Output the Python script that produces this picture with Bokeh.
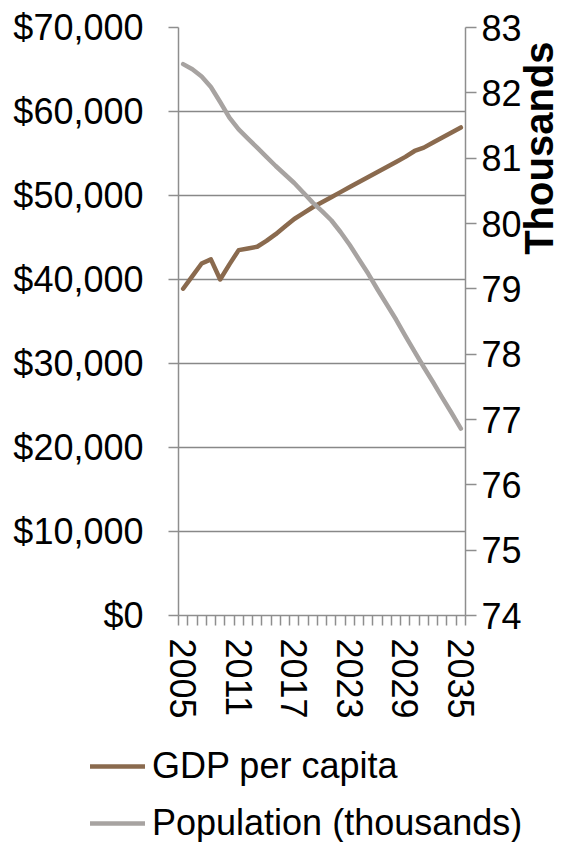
from math import pi
from bokeh.plotting import figure
from bokeh.models import (Range1d, LinearAxis, FixedTicker, NumeralTickFormatter,
                          Legend, LegendItem, ColumnDataSource)
from bokeh.embed import file_html
from bokeh.resources import INLINE

# ---- data ----
years = list(range(2005, 2036))
gdp_per_capita = [38900, 40400, 41900, 42400, 40000, 41800, 43500, 43700, 43900, 44600,
                  45400, 46300, 47200, 47900, 48600, 49200, 49800, 50400, 51000, 51600,
                  52200, 52800, 53400, 54000, 54600, 55300, 55700, 56300, 56900, 57500,
                  58100]
population_thousands = [82.44, 82.36, 82.25, 82.09, 81.86, 81.62, 81.44, 81.30, 81.16, 81.02,
                        80.88, 80.75, 80.62, 80.47, 80.32, 80.19, 80.05, 79.87, 79.67, 79.45,
                        79.23, 78.99, 78.76, 78.53, 78.28, 78.04, 77.80, 77.57, 77.33, 77.10,
                        76.86]
year_labels = [2005, 2011, 2017, 2023, 2029, 2035]
gdp_ticks = [0, 10000, 20000, 30000, 40000, 50000, 60000, 70000]
pop_ticks = [74, 75, 76, 77, 78, 79, 80, 81, 82, 83]
series_names = ["GDP per capita", "Population (thousands)"]
right_title = "Thousands"

FONT = "Liberation Sans"
GDP_COLOR = "#8A6A4E"
POP_COLOR = "#A7A3A1"
AXIS_COLOR = "#8E8E8E"
GRID_COLOR = "#888888"
W = 585
H_MAIN = 735
H_LEG = 107

src = ColumnDataSource(dict(year=years, gdp=gdp_per_capita, pop=population_thousands))

p = figure(width=W, height=H_MAIN, output_backend="svg", toolbar_location=None,
           x_range=Range1d(years[0] - 0.5, years[-1] + 0.5),
           y_range=Range1d(gdp_ticks[0], gdp_ticks[-1]),
           min_border_left=178, min_border_right=120, min_border_top=27,
           min_border_bottom=H_MAIN - 615)
p.extra_y_ranges = {"pop": Range1d(pop_ticks[0], pop_ticks[-1])}
p.outline_line_color = None
p.background_fill_color = "white"
p.border_fill_color = "white"

# x axis
xa = p.xaxis[0]
xa.ticker = FixedTicker(ticks=year_labels,
                        minor_ticks=[y - 0.5 for y in years] + [years[-1] + 0.5])
xa.major_tick_out = 0
xa.major_tick_in = 0
xa.minor_tick_out = 10
xa.minor_tick_in = 0
xa.minor_tick_line_color = AXIS_COLOR
xa.minor_tick_line_width = 1.5
xa.axis_line_color = AXIS_COLOR
xa.axis_line_width = 1.5
xa.major_label_orientation = "vertical"
xa.major_label_text_font = FONT
xa.major_label_text_font_size = "36px"
xa.major_label_text_color = "black"
xa.major_label_standoff = 13

# left axis
ya = p.yaxis[0]
ya.ticker = FixedTicker(ticks=gdp_ticks)
ya.formatter = NumeralTickFormatter(format="$0,0")
ya.major_tick_out = 10
ya.major_tick_in = 0
ya.minor_tick_out = 0
ya.minor_tick_in = 0
ya.major_tick_line_color = AXIS_COLOR
ya.major_tick_line_width = 1.5
ya.axis_line_color = AXIS_COLOR
ya.axis_line_width = 1.5
ya.major_label_text_font = FONT
ya.major_label_text_font_size = "36px"
ya.major_label_text_color = "black"
ya.major_label_standoff = 25

# right axis
ra = LinearAxis(y_range_name="pop", ticker=FixedTicker(ticks=pop_ticks))
ra.major_tick_out = 11
ra.major_tick_in = 0
ra.minor_tick_out = 0
ra.minor_tick_in = 0
ra.major_tick_line_color = AXIS_COLOR
ra.major_tick_line_width = 1.5
ra.axis_line_color = AXIS_COLOR
ra.axis_line_width = 1.5
ra.major_label_text_font = FONT
ra.major_label_text_font_size = "36px"
ra.major_label_text_color = "black"
ra.major_label_standoff = 5
# a few leading no-break spaces lift the title towards the top of the axis
ra.axis_label = "\u00a0" * 6 + right_title
ra.axis_label_text_font = FONT
ra.axis_label_text_font_size = "40px"
ra.axis_label_text_font_style = "bold"
ra.axis_label_text_color = "black"
ra.axis_label_standoff = 14
if "axis_label_orientation" in ra.properties():
    ra.axis_label_orientation = pi / 2
p.add_layout(ra, "right")

# grid
p.xgrid.visible = False
p.ygrid.ticker = FixedTicker(ticks=gdp_ticks)
p.ygrid.grid_line_color = GRID_COLOR
p.ygrid.grid_line_width = 1.5

# lines
p.line("year", "gdp", source=src, line_color=GDP_COLOR, line_width=4.5,
       line_join="round", line_cap="round")
p.line("year", "pop", source=src, y_range_name="pop", line_color=POP_COLOR,
       line_width=4.5, line_join="round", line_cap="round")

# legend (separate strip below the chart; its lines fall outside its own view)
lg = figure(width=W, height=H_LEG, output_backend="svg", toolbar_location=None,
            x_range=Range1d(0, 1), y_range=Range1d(0, 1),
            x_axis_type=None, y_axis_type=None,
            min_border_left=0, min_border_right=0, min_border_top=0, min_border_bottom=0)
lg.outline_line_color = None
lg.xgrid.visible = False
lg.ygrid.visible = False
lg.background_fill_color = "white"
lg.border_fill_color = "white"
lg_gdp = lg.line("year", "gdp", source=src, line_color=GDP_COLOR, line_width=4.5,
                 line_cap="round")
lg_pop = lg.line("year", "pop", source=src, line_color=POP_COLOR, line_width=4.5,
                 line_cap="round")
legend = Legend(items=[LegendItem(label=series_names[0], renderers=[lg_gdp]),
                       LegendItem(label=series_names[1], renderers=[lg_pop])],
                location=(90, -2), orientation="vertical",
                label_text_font=FONT, label_text_font_size="36px",
                label_text_color="black", glyph_width=55, glyph_height=40,
                label_standoff=7, spacing=15, padding=0, margin=0,
                border_line_color=None, background_fill_alpha=0)
lg.add_layout(legend)

open("out.html", "w").write(file_html([p, lg], INLINE))
